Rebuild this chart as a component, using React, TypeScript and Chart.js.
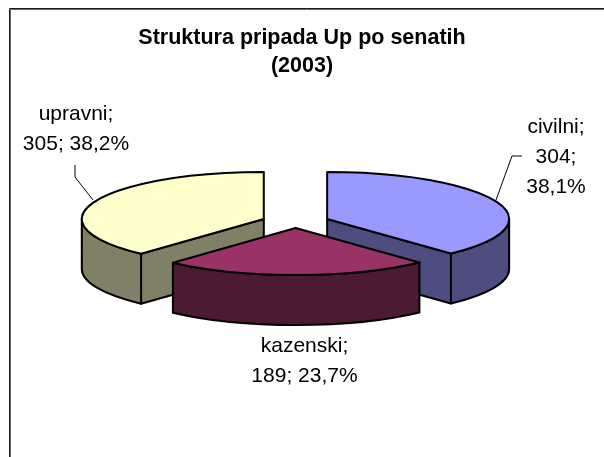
import React, { useEffect, useRef } from "react";
import { Chart, registerables } from "chart.js";

Chart.register(...registerables);

const categories = ["civilni", "kazenski", "upravni"];
const values = [304, 189, 305];
const topColors = ["#9999FF", "#993366", "#FFFFCC"];
const wallColors = ["#4D4D80", "#4D1A33", "#808066"];
const titleLines = ["Struktura pripada Up po senatih", "(2003)"];

const PIE_CX = 295.5;
const PIE_CY = 221.4;
const PIE_RX = 182;
const PIE_RY = 47;
const DEPTH = 50;
const EXPLODE_X = 34;
const EXPLODE_Y = 6.6;
const LABEL_FONT = '21px "Liberation Sans", Arial, sans-serif';
const LABEL_LINE = 30;

const total = values.reduce((a, b) => a + b, 0);
const pct = (v: number) => ((v / total) * 100).toFixed(1).replace(".", ",") + "%";

const labelLines = [
  [`${categories[0]};`, `${values[0]};`, pct(values[0])],
  [`${categories[1]};`, `${values[1]}; ${pct(values[1])}`],
  [`${categories[2]};`, `${values[2]}; ${pct(values[2])}`],
];
const labelAnchors = [
  { x: 556, y: 133 },
  { x: 304.5, y: 352 },
  { x: 76, y: 120 },
];
const leaders = [
  [[496, 200], [512, 156], [522, 156]],
  [],
  [[93, 200], [75, 177], [75, 165]],
];

const pie3d = {
  id: "pie3d",
  beforeDatasetsDraw(chart: any) {
    const ctx: CanvasRenderingContext2D = chart.ctx;
    const arcs = chart.getDatasetMeta(0).data;
    const order = [2, 0, 1];
    ctx.save();
    ctx.lineWidth = 2;
    ctx.strokeStyle = "#000";
    ctx.lineJoin = "round";
    for (const i of order) {
      const el = arcs[i];
      const mid = (el.startAngle + el.endAngle) / 2;
      const cx = PIE_CX + Math.cos(mid) * EXPLODE_X;
      const cy = PIE_CY + Math.sin(mid) * EXPLODE_Y;
      const a0 = el.startAngle;
      const a1 = el.endAngle;
      const pt = (a: number) => [cx + PIE_RX * Math.cos(a), cy + PIE_RY * Math.sin(a)];

      // radial walls facing the viewer
      ctx.fillStyle = wallColors[i];
      const radial = (a: number) => {
        const p = pt(a);
        ctx.beginPath();
        ctx.moveTo(cx, cy);
        ctx.lineTo(p[0], p[1]);
        ctx.lineTo(p[0], p[1] + DEPTH);
        ctx.lineTo(cx, cy + DEPTH);
        ctx.closePath();
        ctx.fill();
        ctx.stroke();
      };
      if (Math.cos(a1) > 0.001) radial(a1);
      if (-Math.cos(a0) > 0.001) radial(a0);

      // outer wall
      const w0 = Math.max(a0, 0);
      const w1 = Math.min(a1, Math.PI);
      if (w1 > w0) {
        ctx.beginPath();
        ctx.ellipse(cx, cy, PIE_RX, PIE_RY, 0, w0, w1);
        ctx.ellipse(cx, cy + DEPTH, PIE_RX, PIE_RY, 0, w1, w0, true);
        ctx.closePath();
        ctx.fill();
        ctx.stroke();
      }

      // top face: the library's arc, squashed into perspective
      const r = el.outerRadius;
      ctx.save();
      ctx.translate(cx, cy);
      ctx.scale(PIE_RX / r, PIE_RY / r);
      ctx.translate(-el.x, -el.y);
      el.draw(ctx);
      ctx.restore();

      ctx.beginPath();
      ctx.moveTo(cx, cy);
      ctx.ellipse(cx, cy, PIE_RX, PIE_RY, 0, a0, a1);
      ctx.closePath();
      ctx.stroke();
    }

    // leader lines and labels
    ctx.lineWidth = 1;
    ctx.strokeStyle = "#000";
    for (const l of leaders) {
      if (!l.length) continue;
      ctx.beginPath();
      l.forEach((p, k) => (k ? ctx.lineTo(p[0], p[1]) : ctx.moveTo(p[0], p[1])));
      ctx.stroke();
    }
    ctx.fillStyle = "#000";
    ctx.font = LABEL_FONT;
    ctx.textAlign = "center";
    ctx.textBaseline = "alphabetic";
    labelLines.forEach((lines, i) => {
      lines.forEach((t, k) => ctx.fillText(t, labelAnchors[i].x, labelAnchors[i].y + k * LABEL_LINE));
    });

    // chart frame
    ctx.lineWidth = 1;
    ctx.strokeStyle = "#666";
    ctx.beginPath();
    ctx.moveTo(10.5, 457);
    ctx.lineTo(10.5, 9.5);
    ctx.lineTo(604, 9.5);
    ctx.stroke();
    ctx.strokeStyle = "#1a1a1a";
    ctx.beginPath();
    ctx.moveTo(9.5, 457);
    ctx.lineTo(9.5, 8.5);
    ctx.lineTo(604, 8.5);
    ctx.stroke();
    ctx.restore();
    return false;
  },
};

export default function App() {
  const ref = useRef<HTMLCanvasElement>(null);
  useEffect(() => {
    const chart = new Chart(ref.current!, {
      type: "pie",
      data: {
        labels: categories,
        datasets: [
          { data: values, backgroundColor: topColors, borderWidth: 0 },
        ],
      },
      options: {
        animation: false,
        responsive: false,
        layout: { padding: 0 },
        plugins: {
          legend: { display: false },
          tooltip: { enabled: false },
          title: {
            display: true,
            text: titleLines,
            color: "#000",
            font: { family: '"Liberation Sans", Arial, sans-serif', size: 21.5, weight: "bold", lineHeight: 1.3 },
            padding: { top: 24, bottom: 10 },
          },
        },
      },
      plugins: [pie3d],
    } as any);
    return () => chart.destroy();
  }, []);
  return (
    <canvas
      ref={ref}
      width={604}
      height={457}
      style={{ position: "absolute", left: 0, top: 0, display: "block" }}
    />
  );
}
